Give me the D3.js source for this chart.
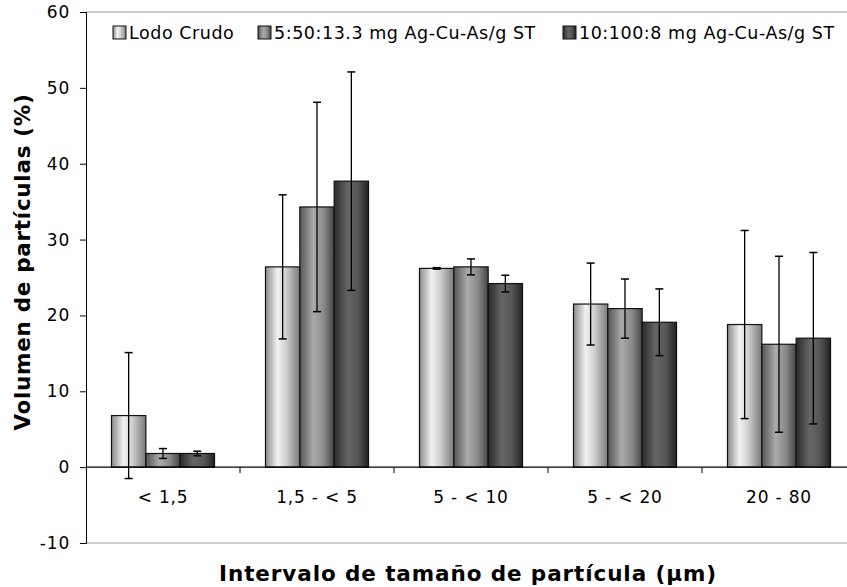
<!DOCTYPE html>
<html><head><meta charset="utf-8">
<script src="https://cdn.jsdelivr.net/npm/d3@7"></script>
<style>body{margin:0;background:#fff}svg{display:block}text{font-family:"DejaVu Sans",Verdana,sans-serif}</style>
</head><body><svg id="c" width="847" height="587"></svg>
<script>
const categories = ["< 1,5", "1,5 - < 5", "5 - < 10", "5 - < 20", "20 - 80"];
const seriesNames = ["Lodo Crudo", "5:50:13.3 mg Ag-Cu-As/g ST", "10:100:8 mg Ag-Cu-As/g ST"];
const lodoCrudo = [6.8, 26.4, 26.2, 21.5, 18.8];
const serie550 = [1.8, 34.3, 26.4, 20.9, 16.2];
const serie10100 = [1.8, 37.7, 24.2, 19.1, 17.0];
const errLodo = [8.3, 9.5, 0.1, 5.4, 12.4];
const err550 = [0.65, 13.8, 1.05, 3.9, 11.6];
const err10100 = [0.3, 14.4, 1.1, 4.4, 11.3];
const yTicks = [-10, 0, 10, 20, 30, 40, 50, 60];

const values = [lodoCrudo, serie550, serie10100];
const errors = [errLodo, err550, err10100];
const svg = d3.select("#c");
const defs = svg.append("defs");
const grads = [
  [["0%","#8a8a8a"],["35%","#f2f2f2"],["60%","#d0d0d0"],["100%","#7a7a7a"]],
  [["0%","#555"],["40%","#aaa"],["70%","#8a8a8a"],["100%","#444"]],
  [["0%","#2a2a2a"],["40%","#666"],["70%","#555"],["100%","#222"]]
];
grads.forEach((g,i)=>{
  const lg = defs.append("linearGradient").attr("id","g"+i).attr("x1","0").attr("x2","1").attr("y1","0").attr("y2","0");
  g.forEach(s=>lg.append("stop").attr("offset",s[0]).attr("stop-color",s[1]));
});

const L = 86, R = 856, T = 12, B = 543;
const x0 = d3.scaleBand().domain(categories).range([L, R]).paddingInner(0.331).paddingOuter(0.1655);
const x1 = d3.scaleBand().domain([0,1,2]).range([0, x0.bandwidth()]);
const y = d3.scaleLinear().domain([-10, 60]).range([B, T]);

[60, -10].forEach(v=>{
  svg.append("line").attr("x1", L).attr("x2", 847).attr("y1", y(v)).attr("y2", y(v)).attr("stroke","#999").attr("stroke-width",1);
});

const ya = svg.append("g").attr("transform",`translate(${L},0)`)
  .call(d3.axisLeft(y).tickValues(yTicks).tickSize(6).tickPadding(10).tickFormat(d => String(d)));
ya.select(".domain").attr("stroke","#000");
ya.selectAll("text").attr("font-size","17px").attr("letter-spacing","0.8px").attr("fill","#000").style("font-family",'"DejaVu Sans",Verdana,sans-serif');
ya.selectAll("line").attr("stroke","#000");

const g = svg.append("g");
categories.forEach((c,ci)=>{
  values.forEach((vals,si)=>{
    const v = vals[ci];
    g.append("rect").attr("x", x0(c)+x1(si)).attr("width", x1.bandwidth())
      .attr("y", y(Math.max(v,0))).attr("height", Math.abs(y(v)-y(0)))
      .attr("fill","url(#g"+si+")").attr("stroke","#111").attr("stroke-width",1.2);
  });
});
categories.forEach((c,ci)=>{
  values.forEach((vals,si)=>{
    const v = vals[ci], e = errors[si][ci];
    const cx = x0(c)+x1(si)+x1.bandwidth()/2;
    g.append("line").attr("x1",cx).attr("x2",cx).attr("y1",y(v+e)).attr("y2",y(v-e)).attr("stroke","#000").attr("stroke-width",1.3);
    [v+e, v-e].forEach(t=>g.append("line").attr("x1",cx-4).attr("x2",cx+4).attr("y1",y(t)).attr("y2",y(t)).attr("stroke","#000").attr("stroke-width",1.5));
  });
});

svg.append("line").attr("x1",L).attr("x2",847).attr("y1",y(0)).attr("y2",y(0)).attr("stroke","#000").attr("stroke-width",1.2);
const step = x0.step();
categories.slice(1).forEach((c,i)=>{
  const xt = x0(c) - x0.paddingInner()*step/2;
  svg.append("line").attr("x1",xt).attr("x2",xt).attr("y1",y(0)).attr("y2",y(0)+6).attr("stroke","#000");
});
categories.forEach(c=>{
  svg.append("text").attr("x", x0(c)+x0.bandwidth()/2).attr("y", 503).attr("text-anchor","middle")
    .attr("font-size","17px").attr("letter-spacing","0.8px").text(c);
});

svg.append("text").attr("transform","translate(30,262) rotate(-90)").attr("text-anchor","middle")
  .attr("font-size","21.5px").attr("letter-spacing","0.7px").attr("font-weight","bold").text("Volumen de partículas (%)");
svg.append("text").attr("x", 468).attr("y", 581).attr("text-anchor","middle")
  .attr("font-size","21.5px").attr("letter-spacing","0.9px").attr("font-weight","bold").text("Intervalo de tamaño de partícula (µm)");

const legX = [113, 258, 563];
seriesNames.forEach((n,i)=>{
  svg.append("rect").attr("x",legX[i]).attr("y",26).attr("width",13).attr("height",13)
    .attr("fill","url(#g"+i+")").attr("stroke","#111").attr("stroke-width",1);
  svg.append("text").attr("x",legX[i]+16).attr("y",39).attr("font-size","17.5px").attr("letter-spacing","0.55px").text(n);
});
</script></body></html>
